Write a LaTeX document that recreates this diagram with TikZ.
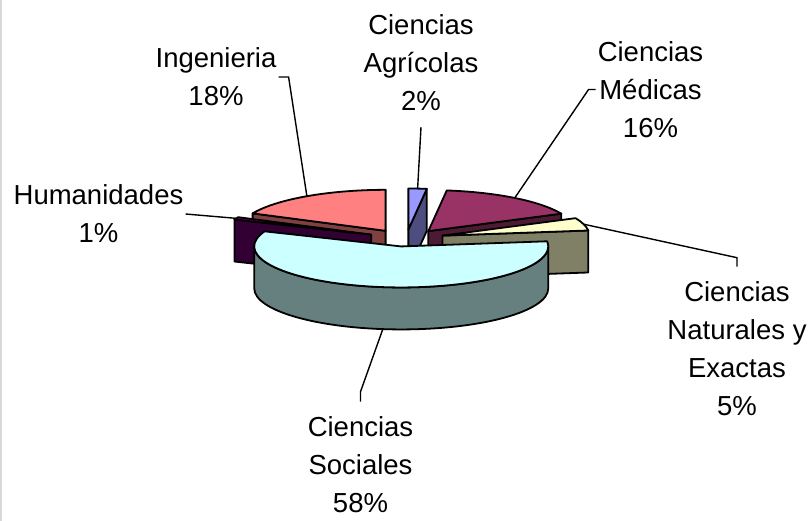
\documentclass[tikz,border=0pt]{standalone}
\usepackage{fontspec}
\setmainfont{Liberation Sans}
\definecolor{agrTop}{HTML}{9999FF}
\definecolor{agrSide}{HTML}{4D4D80}
\definecolor{medTop}{HTML}{993366}
\definecolor{medSide}{HTML}{4D1A33}
\definecolor{natTop}{HTML}{FFFFCC}
\definecolor{natSide}{HTML}{808066}
\definecolor{socTop}{HTML}{CCFFFF}
\definecolor{socSide}{HTML}{668080}
\definecolor{humTop}{HTML}{660066}
\definecolor{humSide}{HTML}{330033}
\definecolor{ingTop}{HTML}{FF8080}
\definecolor{ingSide}{HTML}{804040}
\tikzset{
    slice-face/.style = {draw=black, line width=1.8pt, line join=round},
    pie-label/.style = {align=center, inner sep=2pt, font=\fontsize{27.5}{38}\selectfont},
    leader/.style = {draw=black, line width=1.4pt},
}

\begin{document}
\begin{tikzpicture}[x=1pt, y=1pt]
\useasboundingbox (0,0) rectangle (811,-521);
\fill[white] (0,0) rectangle (811,-521);
\draw[black!15, line width=1.5pt] (1,0) -- (1,-521);

\begin{scope}[shift={(406,-238)}]
\begin{scope}[shift={(86.4:38 and 8.5)}]
\filldraw[slice-face, fill=agrSide] (0,0) -- (82.8:147 and 41) -- ++(0,-42) -- (0,-42) -- cycle;
\filldraw[slice-face, fill=agrTop] (0,0) -- (82.8:147 and 41) arc[start angle=82.8, end angle=90, x radius=147, y radius=41] -- cycle;
\coordinate (agrP) at (86.4:147 and 41);
\end{scope}
\begin{scope}[shift={(54:38 and 8.5)}]
\filldraw[slice-face, fill=medSide] (0,0) -- (25.2:147 and 41) -- ++(0,-42) -- (0,-42) -- cycle;
\filldraw[slice-face, fill=medTop] (0,0) -- (25.2:147 and 41) arc[start angle=25.2, end angle=82.8, x radius=147, y radius=41] -- cycle;
\coordinate (medP) at (54:147 and 41);
\end{scope}
\begin{scope}[shift={(122.4:38 and 8.5)}]
\filldraw[slice-face, fill=ingSide] (0,0) -- (154.8:147 and 41) -- ++(0,-42) -- (0,-42) -- cycle;
\filldraw[slice-face, fill=ingTop] (0,0) -- (90:147 and 41) arc[start angle=90, end angle=154.8, x radius=147, y radius=41] -- cycle;
\coordinate (ingP) at (122.4:147 and 41);
\end{scope}
\begin{scope}[shift={(16.2:38 and 8.5)}]
\filldraw[slice-face, fill=natSide] (0,0) -- (7.2:147 and 41) -- ++(0,-42) -- (0,-42) -- cycle;
\filldraw[slice-face, fill=natTop] (0,0) -- (7.2:147 and 41) arc[start angle=7.2, end angle=25.2, x radius=147, y radius=41] -- cycle;
\coordinate (natP) at (16.2:147 and 41);
\end{scope}
\begin{scope}[shift={(156.6:38 and 8.5)}]
\filldraw[slice-face, fill=humSide] (0,0) -- (158.4:147 and 41) -- ++(0,-42) -- (0,-42) -- cycle;
\filldraw[slice-face, fill=humTop] (0,0) -- (154.8:147 and 41) arc[start angle=154.8, end angle=158.4, x radius=147, y radius=41] -- cycle;
\coordinate (humP) at (156.6:147 and 41);
\end{scope}
\begin{scope}[shift={(-97.2:38 and 8.5)}]
\filldraw[slice-face, fill=socSide] (180:147 and 41) arc[start angle=180, end angle=360, x radius=147, y radius=41] -- ++(0,-42) arc[start angle=360, end angle=180, x radius=147, y radius=41] -- cycle;
\filldraw[slice-face, fill=socTop] (0,0) -- (158.4:147 and 41) arc[start angle=158.4, end angle=367.2, x radius=147, y radius=41] -- cycle;
\coordinate[yshift=-42pt] (socP) at (-97.2:147 and 41);
\end{scope}
\end{scope}

\node[pie-label] (lblAgr) at (421,-63) {Ciencias\\Agrícolas\\2\%};
\node[pie-label] (lblIng) at (216,-77) {Ingenieria\\18\%};
\node[pie-label] (lblMed) at (650.5,-89.5) {Ciencias\\Médicas\\16\%};
\node[pie-label] (lblHum) at (98.5,-214) {Humanidades\\1\%};
\node[pie-label] (lblNat) at (737,-349) {Ciencias\\Naturales y\\Exactas\\5\%};
\node[pie-label] (lblSoc) at (360.5,-465) {Ciencias\\Sociales\\58\%};

\draw[leader] ([yshift=-14pt]lblAgr.south) -- (agrP);
\draw[leader] (lblIng.east) -- ++(10,0) -- (ingP);
\draw[leader] (lblMed.west) -- ++(-7,0) -- (medP);
\draw[leader] (lblHum.east) -- (humP);
\draw[leader] (natP) -- ([yshift=22pt]lblNat.north) -- ([yshift=13pt]lblNat.north);
\draw[leader] (socP) -- ([yshift=23pt]lblSoc.north) -- ([yshift=13pt]lblSoc.north);
\end{tikzpicture}
\end{document}
